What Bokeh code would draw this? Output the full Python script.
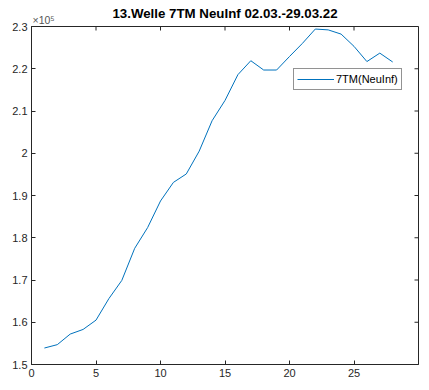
import math
from bokeh.plotting import figure
from bokeh.models import FixedTicker, Range1d, Legend, LegendItem, Title
from bokeh.embed import file_html
from bokeh.resources import INLINE

days = list(range(1, 29))
neuinf_7tm = [153900, 154700, 157200, 158300, 160500, 165600, 169900, 177500,
              182400, 188700, 193100, 195100, 200500, 207700, 212500, 218600,
              221900, 219700, 219700, 222900, 226000, 229400, 229200, 228200,
              225300, 221700, 223700, 221600]

x_ticks = [0, 5, 10, 15, 20, 25]
y_ticks = [150000, 160000, 170000, 180000, 190000, 200000, 210000, 220000, 230000]
y_tick_labels = ["1.5", "1.6", "1.7", "1.8", "1.9", "2", "2.1", "2.2", "2.3"]
x_min, x_max = 0, 30
y_min, y_max = 150000, 230000

title_text = "13.Welle 7TM NeuInf 02.03.-29.03.22"
exponent_text = "×10⁵"
legend_label = "7TM(NeuInf)"

AX = "#262626"
FONT = "Liberation Sans"

p = figure(width=429, height=390, output_backend="svg", toolbar_location=None,
           x_range=Range1d(x_min, x_max), y_range=Range1d(y_min, y_max),
           min_border_left=31, min_border_right=11, min_border_top=26, min_border_bottom=26)
p.title = None
p.xgrid.visible = False
p.ygrid.visible = False
p.outline_line_color = AX
p.outline_line_width = 1
p.background_fill_color = "white"
p.border_fill_color = "white"

r = p.line(days, neuinf_7tm, line_color="#0072BD", line_width=1)

# inward ticks on the top and right edges of the box (clipped to the frame)
p.scatter(x=x_ticks, y=[y_max] * len(x_ticks), marker="dash", size=8, angle=math.pi / 2,
          line_color=AX, line_width=1)
p.scatter(x=[x_max] * len(y_ticks), y=y_ticks, marker="dash", size=8,
          line_color=AX, line_width=1)

for ax in (p.xaxis[0], p.yaxis[0]):
    ax.axis_line_color = AX
    ax.major_tick_line_color = AX
    ax.major_tick_in = 4
    ax.major_tick_out = 0
    ax.minor_tick_line_color = None
    ax.major_label_text_color = AX
    ax.major_label_text_font = FONT
    ax.major_label_text_font_size = "11px"
    ax.major_label_standoff = 4

p.xaxis.ticker = FixedTicker(ticks=x_ticks)
p.yaxis.ticker = FixedTicker(ticks=y_ticks)
p.yaxis.major_label_overrides = {t: l for t, l in zip(y_ticks, y_tick_labels)}

p.add_layout(Title(text=exponent_text, align="left", offset=1, standoff=2,
                   text_font=FONT, text_font_size="10.5px", text_font_style="normal",
                   text_color="#555555"), "above")
p.add_layout(Title(text=title_text, align="center", standoff=-20,
                   text_font=FONT, text_font_size="13.3px", text_font_style="bold",
                   text_color="black"), "above")

legend = Legend(items=[LegendItem(label=legend_label, renderers=[r])],
                location=(262, 274), orientation="vertical")
legend.border_line_color = AX
legend.border_line_width = 1
legend.background_fill_color = "white"
legend.background_fill_alpha = 1
legend.label_text_font = FONT
legend.label_text_font_size = "11px"
legend.label_text_color = "black"
legend.glyph_width = 37
legend.glyph_height = 12
legend.label_height = 14
legend.padding = 3
legend.margin = 0
legend.spacing = 0
legend.label_standoff = 2
p.add_layout(legend, "center")

open("out.html", "w").write(file_html(p, INLINE))
